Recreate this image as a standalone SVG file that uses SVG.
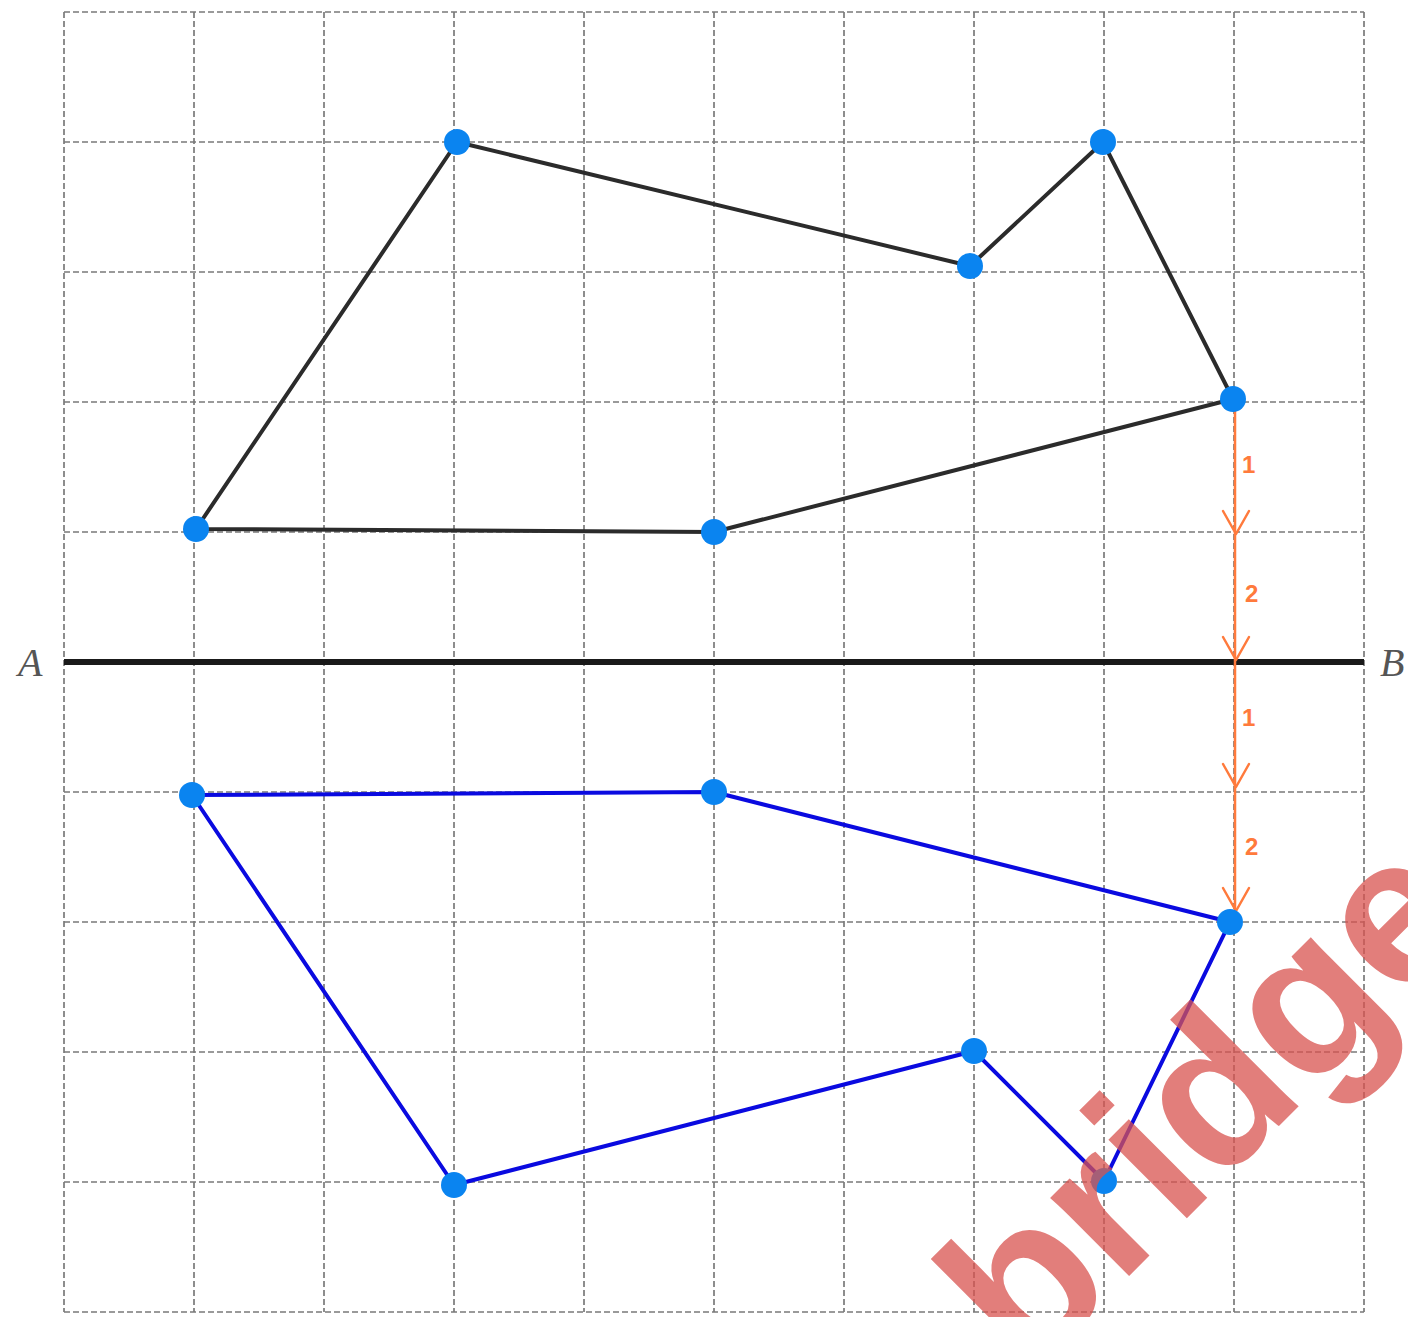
<svg xmlns="http://www.w3.org/2000/svg" width="1408" height="1317" viewBox="0 0 1408 1317">
<style>
.grid line{stroke:#7a7a7a;stroke-width:1.7;stroke-dasharray:6 3}
.dot{fill:#0a84f0}
.blk{fill:none;stroke:#2b2b2b;stroke-width:4;stroke-linejoin:round}
.blu{fill:none;stroke:#0a0ae0;stroke-width:4;stroke-linejoin:round}
.arr{stroke:#ff7a3c;stroke-width:2.5;fill:none;stroke-linecap:round;stroke-linejoin:round}
.lbl{font-family:"Liberation Sans",sans-serif;font-weight:bold;font-size:24px;fill:#ff7a3c}
.ab{font-family:"Liberation Serif",serif;font-style:italic;font-size:40px;fill:#555}
</style>
<rect width="1408" height="1317" fill="#fff"/>
<g class="grid" id="grid">
<line x1="64" y1="12" x2="64" y2="1312"/><line x1="194" y1="12" x2="194" y2="1312"/><line x1="324" y1="12" x2="324" y2="1312"/><line x1="454" y1="12" x2="454" y2="1312"/><line x1="584" y1="12" x2="584" y2="1312"/><line x1="714" y1="12" x2="714" y2="1312"/><line x1="844" y1="12" x2="844" y2="1312"/><line x1="974" y1="12" x2="974" y2="1312"/><line x1="1104" y1="12" x2="1104" y2="1312"/><line x1="1234" y1="12" x2="1234" y2="1312"/><line x1="1364" y1="12" x2="1364" y2="1312"/>
<line x1="64" y1="12" x2="1364" y2="12"/><line x1="64" y1="142" x2="1364" y2="142"/><line x1="64" y1="272" x2="1364" y2="272"/><line x1="64" y1="402" x2="1364" y2="402"/><line x1="64" y1="532" x2="1364" y2="532"/><line x1="64" y1="792" x2="1364" y2="792"/><line x1="64" y1="922" x2="1364" y2="922"/><line x1="64" y1="1052" x2="1364" y2="1052"/><line x1="64" y1="1182" x2="1364" y2="1182"/><line x1="64" y1="1312" x2="1364" y2="1312"/>
</g>
<g id="axis">
<line x1="64" y1="662" x2="1364" y2="662" stroke="#1a1a1a" stroke-width="6"/>
<text class="ab" x="18" y="676">A</text>
<text class="ab" x="1380" y="676">B</text>
</g>
<g id="connectors">
<polygon class="blk" points="457,142 970,266 1103,142 1233,399 714,532 196,529"/>
<polygon class="blu" points="192,795 714,792 1230,922 1104,1181 974,1051 454,1185"/>
<g id="arrows" class="arr">
<line x1="1235" y1="399" x2="1235" y2="920"/>
<polyline points="1223,511 1236,534 1249,511"/>
<polyline points="1223,637 1236,660 1249,637"/>
<polyline points="1223,764 1236,787 1249,764"/>
<polyline points="1223,888 1236,911 1249,888"/>
</g>
</g>
<g id="labels">
<text class="lbl" x="1242" y="473">1</text>
<text class="lbl" x="1245" y="602">2</text>
<text class="lbl" x="1242" y="726">1</text>
<text class="lbl" x="1245" y="855">2</text>
</g>
<g id="points">
<circle class="dot" cx="457" cy="142" r="13"/><circle class="dot" cx="970" cy="266" r="13"/><circle class="dot" cx="1103" cy="142" r="13"/><circle class="dot" cx="1233" cy="399" r="13"/><circle class="dot" cx="714" cy="532" r="13"/><circle class="dot" cx="196" cy="529" r="13"/>
<circle class="dot" cx="192" cy="795" r="13"/><circle class="dot" cx="714" cy="792" r="13"/><circle class="dot" cx="1230" cy="922" r="13"/><circle class="dot" cx="1104" cy="1181" r="13"/><circle class="dot" cx="974" cy="1051" r="13"/><circle class="dot" cx="454" cy="1185" r="13"/>
</g>
<g id="watermark">
<text x="1028" y="1377" transform="rotate(-45 1028 1377)" font-family="Liberation Sans, sans-serif" font-weight="bold" font-size="210" fill="#d9534f" opacity="0.75">bridge</text>
</g>
</svg>
